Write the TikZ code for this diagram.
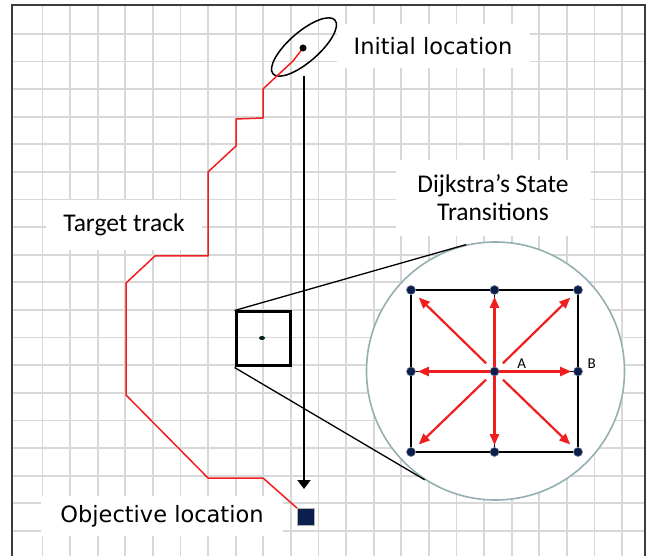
\documentclass[tikz,border=0pt]{standalone}
\usepackage{fontspec}
\setmainfont{Carlito}
\newfontfamily\dejavu{DejaVu Sans}
\usetikzlibrary{arrows.meta,shapes.geometric}
\definecolor{gridgray}{RGB}{216,216,216}
\definecolor{framegray}{RGB}{60,60,60}
\definecolor{trackred}{RGB}{240,30,30}
\definecolor{navy}{RGB}{12,30,75}
\definecolor{circlegray}{RGB}{150,175,178}
\begin{document}
\begin{tikzpicture}[x=1pt,y=-1pt,
 gridline/.style={draw=gridgray, line width=1.8pt},
 labelbox/.style={fill=white, inner sep=0pt, align=center},
 track/.style={draw=trackred, line width=1.5pt, line join=round},
 move/.style={draw=trackred, line width=2.2pt, -{Triangle[width=9pt,length=11pt]}},
 state/.style={circle, fill=navy, draw=navy!60!white, line width=0.6pt, minimum size=9pt, inner sep=0pt},
 lbl/.style={font=\fontsize{15}{17}\selectfont, inner sep=0pt},
 bigtext/.style={font=\fontsize{25.5}{28}\selectfont},
 vtext/.style={font=\dejavu\fontsize{22.5}{26}\selectfont},
]
\useasboundingbox (0,0) rectangle (646,556);
\clip (0,0) rectangle (646,556);
\fill[white] (0,0) rectangle (646,556);
% background grid
\foreach \k in {0,...,21} \draw[gridline] ({42.4+27.6*\k},5) -- ({42.4+27.6*\k},560);
\foreach \k in {0,...,18} \draw[gridline] (12,{34+27.6*\k}) -- (645,{34+27.6*\k});
\draw[framegray, line width=2.4pt] (12,570) -- (12,5) -- (645,5) -- (645,570);

% label boxes
\node[labelbox, vtext, minimum width=193pt, minimum height=44pt] (initlbl) at (433,46) {Initial location};
\node[labelbox, bigtext, minimum width=156pt, minimum height=50pt] (tracklbl) at (124,225) {Target track};
\node[labelbox, bigtext, minimum width=195pt, minimum height=76pt] (dijlbl) at (493,198) {Dijkstra’s State\\Transitions};
\node[labelbox, vtext, minimum width=242pt, minimum height=40pt] (objlbl) at (162,516) {Objective location};

% magnifier circle
\node[circle, draw=circlegray, fill=white, line width=1.6pt, minimum size=258pt, inner sep=0pt] (zoomc) at (495.5,371) {};

% zoomed square
\node[draw, line width=3pt, minimum size=54pt, inner sep=0pt] (sq) at (263,339) {};
\node[ellipse, fill=black!75!teal, minimum width=6pt, minimum height=4pt, inner sep=0pt] (sqdot) at (262,338) {};
\draw[line width=1.3pt] (sq.north west) -- (zoomc.103);
\draw[line width=1.3pt] (sq.south west) -- (zoomc.-123);

% state grid
\foreach \c/\x in {1/411,2/494.5,3/578}
  \foreach \r/\y in {1/290,2/371.5,3/452}
    \node[state] (s\c\r) at (\x,\y) {};
\draw[line width=1.5pt] (s11) -- (s21) -- (s31) -- (s32) -- (s33) -- (s23) -- (s13) -- (s12) -- (s11);
\draw[line width=1.5pt] (s21) -- (s22) -- (s23);
\draw[line width=1.5pt] (s12) -- (s22) -- (s32);
\draw[move, shorten >=2pt] (s22) -- (s21);
\draw[move, shorten >=2pt] (s22) -- (s23);
\draw[move, shorten >=2pt] (s22) -- (s12);
\draw[move, shorten >=2pt] (s22) -- (s32);
\draw[move, shorten <=7pt, shorten >=6pt] (s22) -- (s11);
\draw[move, shorten <=7pt, shorten >=6pt] (s22) -- (s31);
\draw[move, shorten <=7pt, shorten >=6pt] (s22) -- (s13);
\draw[move, shorten <=7pt, shorten >=6pt] (s22) -- (s33);
\node[lbl] (la) at (521.7,363.3) {A};
\node[lbl] (lb) at (591.7,363.3) {B};

% objective
\node[fill=navy, draw=gray!60, line width=0.8pt, minimum size=17pt, inner sep=0pt] (obj) at (306,517) {};

% initial location
\node[ellipse, draw, line width=1.5pt, minimum width=82pt, minimum height=30pt, inner sep=0pt, rotate=41] (initell) at (304,47) {};
\coordinate (initpos) at (303,48);
\draw[track] (initpos) -- (293,61) -- (263,89) -- (263,118) -- (236,119) -- (236,146) -- (208,172) -- (208,256) -- (155,256) -- (126,283) -- (126,395) -- (208,478) -- (263,478) -- (obj.north west);
\node[circle, fill=black, minimum size=7pt, inner sep=0pt] (initdot) at (initpos) {};

% straight path arrow
\coordinate (arrstart) at (304,76);
\coordinate (arrend) at (304,489);
\draw[line width=1.5pt, -{Triangle[width=13pt,length=9pt]}] (arrstart) -- (arrend);
\end{tikzpicture}
\end{document}
